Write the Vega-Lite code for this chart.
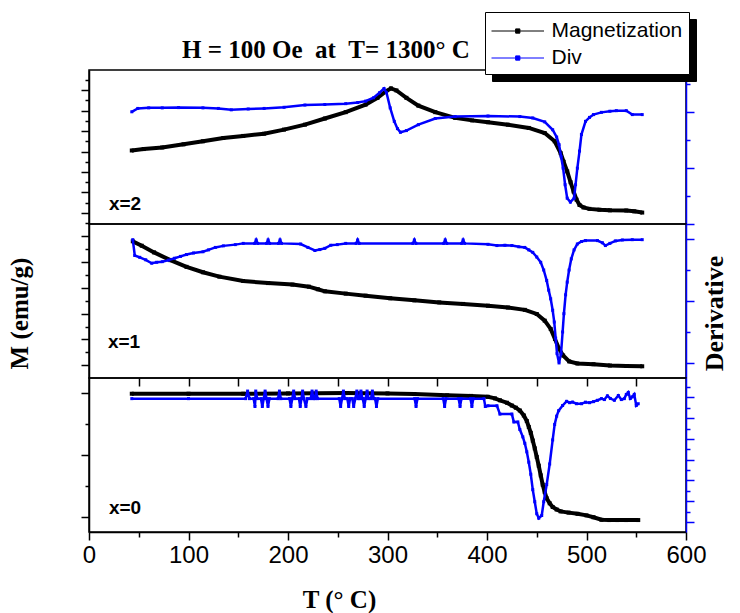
{
  "$schema": "https://vega.github.io/schema/vega-lite/v6.json",
  "padding": {"left": 6, "top": 11, "right": 0, "bottom": 0},
  "config": {
    "font": "Liberation Sans",
    "view": {"stroke": "black", "strokeWidth": 1.5},
    "axis": {"grid": false, "tickColor": "black", "tickWidth": 1.5, "domainColor": "black", "domainWidth": 1.5}
  },
  "datasets": {
    "m2": [
      {"s":"Magnetization","T":43,"v":4.05},{"s":"Magnetization","T":55,"v":4.12},{"s":"Magnetization","T":73.6,"v":4.2},{"s":"Magnetization","T":95,"v":4.35},{"s":"Magnetization","T":114.5,"v":4.5},{"s":"Magnetization","T":135,"v":4.66},{"s":"Magnetization","T":155,"v":4.76},{"s":"Magnetization","T":176,"v":4.87},{"s":"Magnetization","T":196,"v":5.07},{"s":"Magnetization","T":217,"v":5.31},{"s":"Magnetization","T":237,"v":5.61},{"s":"Magnetization","T":258,"v":5.92},{"s":"Magnetization","T":278,"v":6.29},{"s":"Magnetization","T":290,"v":6.62},{"s":"Magnetization","T":298.6,"v":6.94},{"s":"Magnetization","T":303.5,"v":7.08},{"s":"Magnetization","T":309,"v":6.98},{"s":"Magnetization","T":319,"v":6.62},{"s":"Magnetization","T":331,"v":6.24},{"s":"Magnetization","T":348,"v":5.92},{"s":"Magnetization","T":368,"v":5.64},{"s":"Magnetization","T":385,"v":5.52},{"s":"Magnetization","T":401,"v":5.43},{"s":"Magnetization","T":421,"v":5.31},{"s":"Magnetization","T":442,"v":5.15},{"s":"Magnetization","T":458,"v":4.9},{"s":"Magnetization","T":468,"v":4.5},{"s":"Magnetization","T":474,"v":3.92},{"s":"Magnetization","T":477,"v":3.5},{"s":"Magnetization","T":480.6,"v":3.03},{"s":"Magnetization","T":484,"v":2.5},{"s":"Magnetization","T":487,"v":2.05},{"s":"Magnetization","T":490,"v":1.65},{"s":"Magnetization","T":493,"v":1.39},{"s":"Magnetization","T":497,"v":1.27},{"s":"Magnetization","T":503,"v":1.2},{"s":"Magnetization","T":513,"v":1.16},{"s":"Magnetization","T":523.5,"v":1.13},{"s":"Magnetization","T":540,"v":1.12},{"s":"Magnetization","T":548,"v":1.08},{"s":"Magnetization","T":556,"v":1.02}
    ],
    "d2": [
      {"s":"Div","T":43,"v":4.0},{"s":"Div","T":49,"v":4.12},{"s":"Div","T":60,"v":4.14},{"s":"Div","T":73.6,"v":4.14},{"s":"Div","T":90,"v":4.15},{"s":"Div","T":114.5,"v":4.14},{"s":"Div","T":130,"v":4.12},{"s":"Div","T":143,"v":4.07},{"s":"Div","T":160,"v":4.1},{"s":"Div","T":176,"v":4.12},{"s":"Div","T":196,"v":4.16},{"s":"Div","T":217,"v":4.24},{"s":"Div","T":237,"v":4.26},{"s":"Div","T":258,"v":4.29},{"s":"Div","T":270,"v":4.33},{"s":"Div","T":278,"v":4.38},{"s":"Div","T":286,"v":4.5},{"s":"Div","T":292,"v":4.68},{"s":"Div","T":296.5,"v":4.83},{"s":"Div","T":299,"v":4.68},{"s":"Div","T":302.7,"v":4.14},{"s":"Div","T":306.8,"v":3.66},{"s":"Div","T":310,"v":3.4},{"s":"Div","T":313,"v":3.27},{"s":"Div","T":319,"v":3.33},{"s":"Div","T":331,"v":3.54},{"s":"Div","T":348,"v":3.76},{"s":"Div","T":368,"v":3.83},{"s":"Div","T":401,"v":3.85},{"s":"Div","T":433,"v":3.83},{"s":"Div","T":446,"v":3.78},{"s":"Div","T":458,"v":3.64},{"s":"Div","T":466,"v":3.36},{"s":"Div","T":470,"v":3.1},{"s":"Div","T":472.4,"v":2.83},{"s":"Div","T":474.5,"v":2.4},{"s":"Div","T":476.5,"v":1.99},{"s":"Div","T":478.5,"v":1.4},{"s":"Div","T":480.6,"v":0.92},{"s":"Div","T":483.8,"v":0.78},{"s":"Div","T":487.5,"v":0.92},{"s":"Div","T":489,"v":1.4},{"s":"Div","T":490.8,"v":1.99},{"s":"Div","T":493,"v":2.6},{"s":"Div","T":494.9,"v":3.19},{"s":"Div","T":499,"v":3.66},{"s":"Div","T":503,"v":3.8},{"s":"Div","T":507,"v":3.9},{"s":"Div","T":515,"v":3.98},{"s":"Div","T":523.5,"v":4.02},{"s":"Div","T":530,"v":4.04},{"s":"Div","T":540,"v":4.04},{"s":"Div","T":546,"v":3.9},{"s":"Div","T":556,"v":3.9}
    ],
    "m1": [
      {"s":"Magnetization","T":44,"v":5.81},{"s":"Magnetization","T":53,"v":5.64},{"s":"Magnetization","T":65.4,"v":5.38},{"s":"Magnetization","T":81.8,"v":5.08},{"s":"Magnetization","T":98,"v":4.82},{"s":"Magnetization","T":114.5,"v":4.61},{"s":"Magnetization","T":131,"v":4.44},{"s":"Magnetization","T":155,"v":4.27},{"s":"Magnetization","T":180,"v":4.19},{"s":"Magnetization","T":204.5,"v":4.13},{"s":"Magnetization","T":221,"v":4.05},{"s":"Magnetization","T":230,"v":3.95},{"s":"Magnetization","T":237,"v":3.87},{"s":"Magnetization","T":258,"v":3.78},{"s":"Magnetization","T":278,"v":3.7},{"s":"Magnetization","T":302.7,"v":3.6},{"s":"Magnetization","T":327,"v":3.52},{"s":"Magnetization","T":352,"v":3.44},{"s":"Magnetization","T":376,"v":3.38},{"s":"Magnetization","T":401,"v":3.31},{"s":"Magnetization","T":421,"v":3.24},{"s":"Magnetization","T":438,"v":3.15},{"s":"Magnetization","T":450,"v":2.99},{"s":"Magnetization","T":458,"v":2.73},{"s":"Magnetization","T":464,"v":2.41},{"s":"Magnetization","T":468.3,"v":2.02},{"s":"Magnetization","T":472.4,"v":1.64},{"s":"Magnetization","T":476.5,"v":1.38},{"s":"Magnetization","T":482.6,"v":1.15},{"s":"Magnetization","T":490.8,"v":1.07},{"s":"Magnetization","T":507,"v":1.04},{"s":"Magnetization","T":523.5,"v":0.99},{"s":"Magnetization","T":540,"v":0.97},{"s":"Magnetization","T":556,"v":0.96}
    ],
    "d1": [
      {"s":"Div","T":44,"v":3.98},{"s":"Div","T":46,"v":3.47},{"s":"Div","T":51,"v":3.41},{"s":"Div","T":57,"v":3.33},{"s":"Div","T":63,"v":3.22},{"s":"Div","T":68,"v":3.25},{"s":"Div","T":73.6,"v":3.27},{"s":"Div","T":80,"v":3.32},{"s":"Div","T":86,"v":3.38},{"s":"Div","T":92,"v":3.44},{"s":"Div","T":98,"v":3.5},{"s":"Div","T":105,"v":3.55},{"s":"Div","T":114.5,"v":3.59},{"s":"Div","T":120,"v":3.65},{"s":"Div","T":127,"v":3.73},{"s":"Div","T":135,"v":3.78},{"s":"Div","T":147,"v":3.82},{"s":"Div","T":155,"v":3.86},{"s":"Div","T":166.5,"v":3.86},{"s":"Div","T":168,"v":3.97},{"s":"Div","T":169.5,"v":3.86},{"s":"Div","T":178.5,"v":3.86},{"s":"Div","T":180,"v":3.97},{"s":"Div","T":181.5,"v":3.86},{"s":"Div","T":190.5,"v":3.86},{"s":"Div","T":192,"v":3.97},{"s":"Div","T":193.5,"v":3.86},{"s":"Div","T":212.7,"v":3.84},{"s":"Div","T":220,"v":3.73},{"s":"Div","T":227,"v":3.63},{"s":"Div","T":232,"v":3.66},{"s":"Div","T":237,"v":3.7},{"s":"Div","T":243,"v":3.8},{"s":"Div","T":249.5,"v":3.82},{"s":"Div","T":258,"v":3.86},{"s":"Div","T":268.5,"v":3.86},{"s":"Div","T":270,"v":3.97},{"s":"Div","T":271.5,"v":3.86},{"s":"Div","T":325.5,"v":3.86},{"s":"Div","T":327,"v":3.97},{"s":"Div","T":328.5,"v":3.86},{"s":"Div","T":356.5,"v":3.86},{"s":"Div","T":358,"v":3.97},{"s":"Div","T":359.5,"v":3.86},{"s":"Div","T":374.5,"v":3.86},{"s":"Div","T":376,"v":3.97},{"s":"Div","T":377.5,"v":3.86},{"s":"Div","T":401,"v":3.83},{"s":"Div","T":410,"v":3.79},{"s":"Div","T":418,"v":3.8},{"s":"Div","T":425,"v":3.79},{"s":"Div","T":432,"v":3.75},{"s":"Div","T":438,"v":3.73},{"s":"Div","T":442,"v":3.65},{"s":"Div","T":446,"v":3.57},{"s":"Div","T":450,"v":3.42},{"s":"Div","T":454,"v":3.25},{"s":"Div","T":457,"v":3.0},{"s":"Div","T":460,"v":2.66},{"s":"Div","T":462,"v":2.35},{"s":"Div","T":464,"v":2.07},{"s":"Div","T":466,"v":1.7},{"s":"Div","T":467.6,"v":1.32},{"s":"Div","T":469,"v":0.8},{"s":"Div","T":470.4,"v":0.3},{"s":"Div","T":472.4,"v":0.0},{"s":"Div","T":474.4,"v":0.3},{"s":"Div","T":476,"v":1.0},{"s":"Div","T":477.3,"v":1.59},{"s":"Div","T":479,"v":2.2},{"s":"Div","T":480.6,"v":2.61},{"s":"Div","T":482.5,"v":3.0},{"s":"Div","T":484.7,"v":3.36},{"s":"Div","T":487.5,"v":3.65},{"s":"Div","T":490.8,"v":3.84},{"s":"Div","T":495,"v":3.92},{"s":"Div","T":499,"v":3.95},{"s":"Div","T":511,"v":3.95},{"s":"Div","T":516,"v":3.88},{"s":"Div","T":519,"v":3.79},{"s":"Div","T":523.5,"v":3.86},{"s":"Div","T":529,"v":3.94},{"s":"Div","T":536,"v":3.97},{"s":"Div","T":546,"v":3.98},{"s":"Div","T":556,"v":3.98}
    ],
    "m0": [
      {"s":"Magnetization","T":43,"v":4.97},{"s":"Magnetization","T":100,"v":4.97},{"s":"Magnetization","T":155,"v":4.97},{"s":"Magnetization","T":200,"v":4.98},{"s":"Magnetization","T":258,"v":4.99},{"s":"Magnetization","T":300,"v":4.98},{"s":"Magnetization","T":327,"v":4.96},{"s":"Magnetization","T":360,"v":4.92},{"s":"Magnetization","T":384,"v":4.9},{"s":"Magnetization","T":401,"v":4.87},{"s":"Magnetization","T":408,"v":4.82},{"s":"Magnetization","T":413,"v":4.76},{"s":"Magnetization","T":420,"v":4.68},{"s":"Magnetization","T":425,"v":4.59},{"s":"Magnetization","T":429,"v":4.52},{"s":"Magnetization","T":433,"v":4.43},{"s":"Magnetization","T":437,"v":4.27},{"s":"Magnetization","T":440,"v":4.09},{"s":"Magnetization","T":442,"v":3.9},{"s":"Magnetization","T":444,"v":3.71},{"s":"Magnetization","T":446,"v":3.46},{"s":"Magnetization","T":448,"v":3.21},{"s":"Magnetization","T":450,"v":2.93},{"s":"Magnetization","T":452,"v":2.65},{"s":"Magnetization","T":454,"v":2.34},{"s":"Magnetization","T":456,"v":2.04},{"s":"Magnetization","T":458,"v":1.8},{"s":"Magnetization","T":460,"v":1.6},{"s":"Magnetization","T":463,"v":1.44},{"s":"Magnetization","T":466,"v":1.32},{"s":"Magnetization","T":470,"v":1.24},{"s":"Magnetization","T":474,"v":1.18},{"s":"Magnetization","T":482,"v":1.14},{"s":"Magnetization","T":491,"v":1.1},{"s":"Magnetization","T":500,"v":1.05},{"s":"Magnetization","T":507,"v":0.99},{"s":"Magnetization","T":515,"v":0.91},{"s":"Magnetization","T":523,"v":0.9},{"s":"Magnetization","T":531,"v":0.9},{"s":"Magnetization","T":540,"v":0.9},{"s":"Magnetization","T":552,"v":0.9}
    ],
    "d0": [
      {"s":"Div","T":43,"v":11.89},{"s":"Div","T":100,"v":11.89},{"s":"Div","T":157.5,"v":11.89},{"s":"Div","T":159.4,"v":12.62},{"s":"Div","T":161.3,"v":11.89},{"s":"Div","T":165.5,"v":11.89},{"s":"Div","T":166.8,"v":11.13},{"s":"Div","T":167.6,"v":12.62},{"s":"Div","T":169,"v":11.89},{"s":"Div","T":172.8,"v":11.89},{"s":"Div","T":174.2,"v":11.13},{"s":"Div","T":175.6,"v":11.89},{"s":"Div","T":177,"v":12.62},{"s":"Div","T":178.4,"v":11.89},{"s":"Div","T":179.9,"v":11.13},{"s":"Div","T":181.3,"v":11.89},{"s":"Div","T":190,"v":11.89},{"s":"Div","T":191.4,"v":12.62},{"s":"Div","T":192.8,"v":11.89},{"s":"Div","T":201.5,"v":11.89},{"s":"Div","T":202.9,"v":11.13},{"s":"Div","T":204.3,"v":11.89},{"s":"Div","T":205.7,"v":12.62},{"s":"Div","T":207.1,"v":11.89},{"s":"Div","T":211,"v":11.89},{"s":"Div","T":212.3,"v":11.13},{"s":"Div","T":213.5,"v":11.89},{"s":"Div","T":214.7,"v":12.62},{"s":"Div","T":216,"v":11.89},{"s":"Div","T":218,"v":11.13},{"s":"Div","T":219.5,"v":11.89},{"s":"Div","T":222.8,"v":11.89},{"s":"Div","T":224.2,"v":12.62},{"s":"Div","T":225.6,"v":11.89},{"s":"Div","T":227,"v":11.89},{"s":"Div","T":228.3,"v":12.62},{"s":"Div","T":229.7,"v":11.89},{"s":"Div","T":251.5,"v":11.89},{"s":"Div","T":252.9,"v":11.13},{"s":"Div","T":254.3,"v":11.89},{"s":"Div","T":255.7,"v":12.62},{"s":"Div","T":257.1,"v":11.89},{"s":"Div","T":259.6,"v":11.89},{"s":"Div","T":261,"v":11.13},{"s":"Div","T":262.4,"v":11.89},{"s":"Div","T":264.6,"v":11.89},{"s":"Div","T":266,"v":11.13},{"s":"Div","T":267.6,"v":11.89},{"s":"Div","T":269.2,"v":12.62},{"s":"Div","T":270.6,"v":11.89},{"s":"Div","T":272,"v":11.89},{"s":"Div","T":273.3,"v":12.62},{"s":"Div","T":274.8,"v":11.89},{"s":"Div","T":275.2,"v":11.89},{"s":"Div","T":276.6,"v":11.13},{"s":"Div","T":278,"v":11.89},{"s":"Div","T":279.5,"v":12.62},{"s":"Div","T":281,"v":11.89},{"s":"Div","T":283.4,"v":11.89},{"s":"Div","T":284.8,"v":12.62},{"s":"Div","T":286.2,"v":11.89},{"s":"Div","T":287.5,"v":11.89},{"s":"Div","T":288.9,"v":11.13},{"s":"Div","T":290.3,"v":11.89},{"s":"Div","T":327.3,"v":11.89},{"s":"Div","T":328.7,"v":11.13},{"s":"Div","T":330.1,"v":11.89},{"s":"Div","T":356,"v":11.89},{"s":"Div","T":357.4,"v":11.13},{"s":"Div","T":358.8,"v":11.89},{"s":"Div","T":371.5,"v":11.89},{"s":"Div","T":372.9,"v":11.13},{"s":"Div","T":374.3,"v":11.89},{"s":"Div","T":383.4,"v":11.89},{"s":"Div","T":384.8,"v":11.13},{"s":"Div","T":386.2,"v":11.89},{"s":"Div","T":396.9,"v":11.89},{"s":"Div","T":398.3,"v":11.13},{"s":"Div","T":401,"v":11.2},{"s":"Div","T":410,"v":11.2},{"s":"Div","T":413,"v":10.4},{"s":"Div","T":425,"v":10.4},{"s":"Div","T":427,"v":9.64},{"s":"Div","T":431,"v":9.64},{"s":"Div","T":433,"v":8.91},{"s":"Div","T":436,"v":8.2},{"s":"Div","T":438,"v":7.58},{"s":"Div","T":440,"v":6.76},{"s":"Div","T":442,"v":5.76},{"s":"Div","T":444,"v":4.6},{"s":"Div","T":446,"v":3.11},{"s":"Div","T":448,"v":1.95},{"s":"Div","T":450,"v":0.79},{"s":"Div","T":452,"v":0.36},{"s":"Div","T":455,"v":0.62},{"s":"Div","T":457,"v":1.95},{"s":"Div","T":460,"v":3.61},{"s":"Div","T":463,"v":5.59},{"s":"Div","T":466,"v":7.91},{"s":"Div","T":468,"v":9.4},{"s":"Div","T":470,"v":10.2},{"s":"Div","T":472,"v":10.73},{"s":"Div","T":476,"v":11.23},{"s":"Div","T":480,"v":11.63},{"s":"Div","T":483,"v":11.5},{"s":"Div","T":486,"v":11.56},{"s":"Div","T":490,"v":11.4},{"s":"Div","T":495,"v":11.4},{"s":"Div","T":499,"v":11.55},{"s":"Div","T":503,"v":11.5},{"s":"Div","T":507,"v":11.6},{"s":"Div","T":511,"v":11.73},{"s":"Div","T":515,"v":11.89},{"s":"Div","T":518,"v":11.8},{"s":"Div","T":521,"v":12.16},{"s":"Div","T":524,"v":11.9},{"s":"Div","T":528,"v":11.73},{"s":"Div","T":532,"v":12.19},{"s":"Div","T":535,"v":11.8},{"s":"Div","T":538,"v":11.89},{"s":"Div","T":540,"v":12.3},{"s":"Div","T":542,"v":12.49},{"s":"Div","T":544,"v":11.9},{"s":"Div","T":546,"v":12.06},{"s":"Div","T":548,"v":12.3},{"s":"Div","T":550,"v":11.23},{"s":"Div","T":552,"v":11.4}
    ]
  },
  "spacing": 0,
  "bounds": "flush",
  "vconcat": [
    {
      "width": 597, "height": 154,
      "title": {"text": "H = 100 Oe\u00a0\u00a0at\u00a0\u00a0T= 1300° C", "anchor": "start", "frame": "group", "dx": 93, "offset": 7, "font": "Liberation Serif", "fontSize": 25, "fontWeight": "bold", "color": "black"},
      "layer": [
        {
          "data": {"name": "m2"},
          "mark": {"type": "line", "strokeWidth": 4, "point": {"shape": "square", "size": 16, "filled": true}},
          "encoding": {
            "x": {"field": "T", "type": "quantitative", "scale": {"domain": [0, 600], "nice": false, "zero": false},
                  "axis": {"orient": "top", "values": [50,100,150,200,250,300,350,400,450,500,550], "labels": false, "domain": false, "tickSize": -8, "title": null}},
            "y": {"field": "v", "type": "quantitative", "scale": {"domain": [0.462, 7.978], "nice": false, "zero": false},
                  "axis": {"orient": "left", "values": [0.5,1,1.5,2,2.5,3,3.5,4,4.5,5,5.5,6,6.5,7,7.5], "labels": false, "title": null,
                           "tickSize": {"condition": {"test": "datum.value % 1 === 0", "value": 8}, "value": 4}}},
            "color": {"field": "s", "type": "nominal", "scale": {"domain": ["Magnetization", "Div"], "range": ["#000000", "#0000ff"]},
                      "legend": {"orient": "none", "legendX": 396, "legendY": -58, "direction": "vertical", "title": null, "fillColor": "white", "strokeColor": "black", "padding": 6, "labelFont": "Liberation Sans", "labelFontSize": 21, "labelColor": "black", "labelOffset": 34.5, "rowPadding": 4, "labelLimit": 0, "symbolType": "M-1,0H3.2M0.93,-0.17H1.27V0.17H0.93Z", "symbolSize": 625, "symbolStrokeWidth": 1, "zindex": 2}}
          }
        },
        {
          "data": {"name": "d2"},
          "mark": {"type": "line", "strokeWidth": 2.5, "point": {"shape": "square", "size": 9, "filled": true}},
          "encoding": {
            "x": {"field": "T", "type": "quantitative", "scale": {"domain": [0, 600], "nice": false, "zero": false}, "axis": null},
            "y": {"field": "v", "type": "quantitative", "scale": {"domain": [0, 5.49], "nice": false, "zero": false},
                  "axis": {"orient": "right", "values": [0,1,2,3,4,5], "labels": false, "title": null, "domainColor": "#0000ff", "tickColor": "#0000ff",
                           "tickSize": {"condition": {"test": "datum.value % 2 === 0", "value": 8}, "value": 4}}},
            "color": {"field": "s", "type": "nominal"}
          }
        },
        {
          "data": {"values": [{"label": "x=2"}]},
          "mark": {"type": "text", "align": "left", "baseline": "alphabetic", "font": "Liberation Sans", "fontWeight": "bold", "fontSize": 19, "color": "black"},
          "encoding": {
            "x": {"datum": 20, "type": "quantitative", "scale": {"domain": [0, 600], "nice": false, "zero": false}, "axis": null},
            "y": {"datum": 1.13, "type": "quantitative", "scale": {"domain": [0.462, 7.978], "nice": false, "zero": false}, "axis": null},
            "text": {"field": "label"}
          }
        },
        {
          "data": {"values": [{"k": "M"}, {"k": "D"}]},
          "mark": {"type": "point", "opacity": 0},
          "encoding": {
            "shape": {"field": "k", "type": "nominal", "scale": {"domain": ["M", "D"], "range": ["M-1,0H3.2M0.93,-0.17H1.27V0.17H0.93Z", "M-1,0H3.2M0.93,-0.17H1.27V0.17H0.93Z"]},
                      "legend": {"orient": "none", "legendX": 403, "legendY": -51, "direction": "vertical", "title": null, "fillColor": "black", "strokeColor": "black", "padding": 6, "labelFont": "Liberation Sans", "labelFontSize": 21, "labelColor": "black", "labelOffset": 34.5, "rowPadding": 4, "labelLimit": 0, "symbolSize": 625, "symbolStrokeWidth": 1, "symbolStrokeColor": "black", "zindex": 1,
                                 "labelExpr": "datum.label === 'M' ? 'Magnetization' : 'Div'"}}
          }
        }
      ],
      "resolve": {"scale": {"y": "independent"}}
    },
    {
      "width": 597, "height": 154,
      "layer": [
        {
          "data": {"name": "m1"},
          "mark": {"type": "line", "strokeWidth": 4, "point": {"shape": "square", "size": 16, "filled": true}},
          "encoding": {
            "x": {"field": "T", "type": "quantitative", "scale": {"domain": [0, 600], "nice": false, "zero": false},
                  "axis": {"orient": "top", "values": [50,100,150,200,250,300,350,400,450,500,550], "labels": false, "domain": false, "tickSize": -8, "title": null}},
            "y": {"field": "v", "type": "quantitative", "scale": {"domain": [0.505, 6.483], "nice": false, "zero": false},
                  "axis": {"orient": "left", "values": [1,1.5,2,2.5,3,3.5,4,4.5,5,5.5,6], "labels": false,
                           "title": "M (emu/g)", "titleFont": "Liberation Serif", "titleFontSize": 25, "titleFontWeight": "bold", "titleColor": "black", "titlePadding": 48, "titleBaseline": "bottom", "titleY": 89,
                           "tickSize": {"condition": {"test": "datum.value % 1 === 0", "value": 8}, "value": 4}}},
            "color": {"field": "s", "type": "nominal"}
          }
        },
        {
          "data": {"name": "d1"},
          "mark": {"type": "line", "strokeWidth": 2.5, "point": {"shape": "square", "size": 9, "filled": true}},
          "encoding": {
            "x": {"field": "T", "type": "quantitative", "scale": {"domain": [0, 600], "nice": false, "zero": false}, "axis": null},
            "y": {"field": "v", "type": "quantitative", "scale": {"domain": [-0.486, 4.486], "nice": false, "zero": false},
                  "axis": {"orient": "right", "values": [0,1,2,3,4], "labels": false, "domainColor": "#0000ff", "tickColor": "#0000ff",
                           "title": "Derivative", "titleFont": "Liberation Serif", "titleFontSize": 26, "titleFontWeight": "bold", "titleColor": "black", "titlePadding": 7, "titleAngle": 270, "titleBaseline": "top", "titleY": 89,
                           "tickSize": {"condition": {"test": "datum.value % 2 === 0", "value": 8}, "value": 4}}},
            "color": {"field": "s", "type": "nominal"}
          }
        },
        {
          "data": {"values": [{"label": "x=1"}]},
          "mark": {"type": "text", "align": "left", "baseline": "alphabetic", "font": "Liberation Sans", "fontWeight": "bold", "fontSize": 19, "color": "black"},
          "encoding": {
            "x": {"datum": 19, "type": "quantitative", "scale": {"domain": [0, 600], "nice": false, "zero": false}, "axis": null},
            "y": {"datum": 1.66, "type": "quantitative", "scale": {"domain": [0.505, 6.483], "nice": false, "zero": false}, "axis": null},
            "text": {"field": "label"}
          }
        }
      ],
      "resolve": {"scale": {"y": "independent"}}
    },
    {
      "width": 597, "height": 154,
      "layer": [
        {
          "data": {"name": "m0"},
          "mark": {"type": "line", "strokeWidth": 4, "point": {"shape": "square", "size": 16, "filled": true}},
          "encoding": {
            "x": {"field": "T", "type": "quantitative", "scale": {"domain": [0, 600], "nice": false, "zero": false},
                  "axis": {"orient": "top", "values": [50,100,150,200,250,300,350,400,450,500,550], "labels": false, "domain": false, "tickSize": -8, "title": null}},
            "y": {"field": "v", "type": "quantitative", "scale": {"domain": [0.515, 5.477], "nice": false, "zero": false},
                  "axis": {"orient": "left", "values": [1,2,3,4,5], "labels": false, "title": null,
                           "tickSize": {"condition": {"test": "datum.value % 2 === 1", "value": 8}, "value": 4}}},
            "color": {"field": "s", "type": "nominal"}
          }
        },
        {
          "data": {"name": "d0"},
          "mark": {"type": "line", "strokeWidth": 2.5, "point": {"shape": "square", "size": 9, "filled": true}},
          "encoding": {
            "x": {"field": "T", "type": "quantitative", "scale": {"domain": [0, 600], "nice": false, "zero": false},
                  "axis": {"orient": "bottom", "values": [0,50,100,150,200,250,300,350,400,450,500,550,600], "labelExpr": "datum.value % 100 === 0 ? datum.label : ''",
                           "labelFont": "Liberation Sans", "labelFontSize": 24, "labelColor": "black", "labelFlush": false, "labelOverlap": false, "labelPadding": 3,
                           "tickSize": {"condition": {"test": "datum.value % 100 === 0", "value": 8}, "value": 5},
                           "title": "T (° C)", "titleFont": "Liberation Serif", "titleFontSize": 25, "titleFontWeight": "bold", "titleColor": "black", "titleX": 250, "titleY": 75, "titleBaseline": "alphabetic", "titleAlign": "center"}},
            "y": {"field": "v", "type": "quantitative", "scale": {"domain": [-0.97, 13.88], "nice": false, "zero": false},
                  "axis": {"orient": "right", "values": [-1,0,1,2,3,4,5,6,7,8,9,10,11,12,13], "labels": false, "title": null, "domainColor": "#0000ff", "tickColor": "#0000ff",
                           "tickSize": {"condition": {"test": "datum.value % 2 === 0", "value": 8}, "value": 4}}},
            "color": {"field": "s", "type": "nominal"}
          }
        },
        {
          "data": {"values": [{"label": "x=0"}]},
          "mark": {"type": "text", "align": "left", "baseline": "alphabetic", "font": "Liberation Sans", "fontWeight": "bold", "fontSize": 19, "color": "black"},
          "encoding": {
            "x": {"datum": 20, "type": "quantitative", "scale": {"domain": [0, 600], "nice": false, "zero": false}, "axis": null},
            "y": {"datum": 1.09, "type": "quantitative", "scale": {"domain": [0.515, 5.477], "nice": false, "zero": false}, "axis": null},
            "text": {"field": "label"}
          }
        }
      ],
      "resolve": {"scale": {"y": "independent"}, "axis": {"x": "independent"}}
    }
  ]
}
